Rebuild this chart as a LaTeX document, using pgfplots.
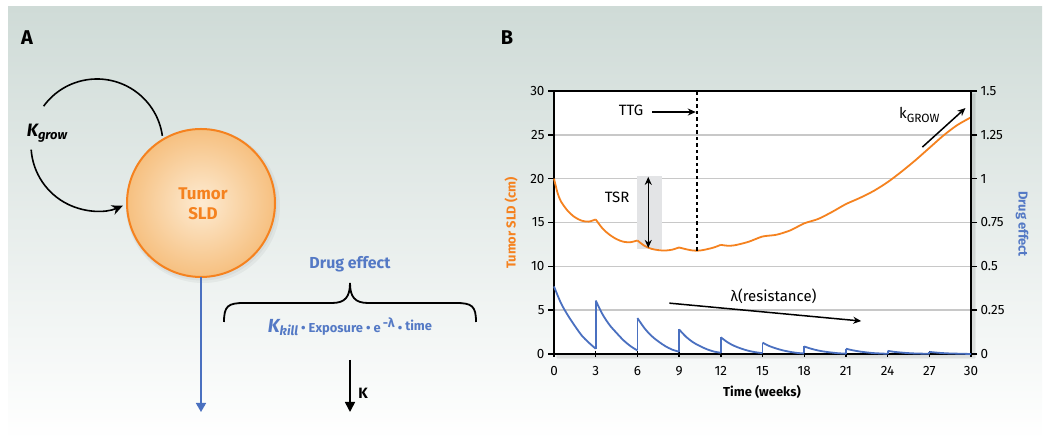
\documentclass[border=0pt]{standalone}
\usepackage{fontspec}
\setmainfont{Fira Sans}
\usepackage{pgfplots}
\pgfplotsset{compat=1.18}
\usetikzlibrary{arrows.meta}

\definecolor{bgtop}{HTML}{CFDBD7}
\definecolor{bgmid}{HTML}{E2E8E6}
\definecolor{orng}{HTML}{F5821F}
\definecolor{blu}{HTML}{4A70C0}
\definecolor{blutext}{HTML}{5479C5}
\definecolor{gridc}{HTML}{C8C8C8}
\definecolor{tsrbox}{HTML}{E3E4E6}
\definecolor{circin}{HTML}{FDEBD2}
\definecolor{circout}{HTML}{F6C080}

\begin{document}
\begin{tikzpicture}[x=1bp,y=1bp]
\path[use as bounding box] (0,0) rectangle (1050,442);
\shade[top color=bgtop, middle color=bgmid, bottom color=white] (8,2) rectangle (1042,435);

% ---------- panel A ----------
\node[font=\fontsize{20}{22}\selectfont\bfseries] at (27,404) {A};
\node[font=\fontsize{20}{22}\selectfont\bfseries] at (507,404) {B};

\fill[black,opacity=0.04] (203,236) circle (77);
\fill[black,opacity=0.04] (202,237) circle (75.5);
\shade[inner color=circin, outer color=circout] (201,239) circle (74);
\draw[orng, line width=2bp] (201,239) circle (74);
\node[orng, align=center, font=\fontsize{17}{20}\selectfont\bfseries] at (203,238) {Tumor\\SLD};

\draw[line width=1.6bp] (97,297) ++(144:66) arc[start angle=144, end angle=8, radius=66];
\draw[line width=1.6bp, -{Stealth[length=11bp,width=10bp]}] (97,297) ++(184:66) arc[start angle=184, end angle=293, radius=66];
\node[font=\bfseries\itshape] at (47,309) {\fontsize{18}{20}\selectfont K\fontsize{13}{15}\selectfont\raisebox{-3bp}{grow}};

\draw[blu, line width=1.6bp, -{Triangle[length=9bp,width=10bp]}] (201,165) -- (201,30);
\node[blutext, font=\fontsize{16}{19}\selectfont\bfseries] at (350,178) {Drug effect};
\draw[line width=1.8bp] (224,120) .. controls (224,136) and (228,139) .. (244,139) -- (332,139)
  .. controls (345,139) and (350,145) .. (350,159)
  .. controls (350,145) and (355,139) .. (368,139) -- (456,139)
  .. controls (472,139) and (476,136) .. (476,120);
\node[blutext, font=\fontsize{13}{15}\selectfont\bfseries] at (350,115)
  {{\itshape\fontsize{19}{21}\selectfont K\fontsize{13}{15}\selectfont\raisebox{-3bp}{kill}} • Exposure • e\,\raisebox{5bp}{-λ} • \raisebox{2bp}{time}};
\draw[line width=1.6bp, -{Triangle[length=10bp,width=10bp]}] (350,82) -- (350,30);
\node[font=\fontsize{15}{17}\selectfont\bfseries] at (363,49) {K};

% ---------- panel B ----------
\fill[black,opacity=0.05] (556,84) rectangle (976,349);
\fill[black,opacity=0.05] (557,83) rectangle (975,348);
\fill[white] (554,88) rectangle (971,351);

\begin{axis}[
  at={(554bp,88bp)}, anchor=south west,
  scale only axis, width=417bp, height=263bp,
  xmin=0, xmax=30, ymin=0, ymax=30,
  xtick={0,3,...,30}, ytick={0,5,...,30},
  xtick pos=bottom, ytick pos=left,
  ymajorgrids, grid style={gridc, line width=1.6bp},
  axis line style={line width=1.6bp, black},
  major tick style={line width=1.4bp, black},
  major tick length=6bp, ytick align=outside, xtick align=center,
  ticklabel style={font=\fontsize{13.5}{15}\selectfont},
  xticklabel style={yshift=-6bp},
  /pgf/number format/assume math mode=true,
  clip=false,
]
\fill[tsrbox] (axis cs:5.99,11.98) rectangle (axis cs:7.79,20.3);
\addplot[orng, line width=1.8bp, smooth, tension=0.45] coordinates {
(0,20.0) (0.25,18.4) (0.5,17.4) (1,16.3) (1.5,15.6) (2,15.2) (2.5,15.1) (3,15.35)};
\addplot[orng, line width=1.8bp, smooth, tension=0.45] coordinates {
(3,15.35) (3.5,14.3) (4,13.6) (4.5,13.1) (5,12.8) (5.5,12.75) (6,12.95)};
\addplot[orng, line width=1.8bp, smooth, tension=0.45] coordinates {
(6,12.95) (6.5,12.35) (7,12.0) (7.5,11.85) (8,11.8) (8.5,11.9) (9,12.15)};
\addplot[orng, line width=1.8bp, smooth, tension=0.45] coordinates {
(9,12.15) (9.5,11.95) (10,11.8) (10.5,11.8) (11,11.95) (11.5,12.15) (12,12.45)};
\addplot[orng, line width=1.8bp, smooth, tension=0.45] coordinates {
(12,12.45) (12.5,12.35) (13,12.4) (14,12.8) (15,13.4) (16,13.6) (17,14.1) (18,14.9)
(19,15.4) (20,16.2) (21,17.1) (22,17.8) (23,18.6) (24,19.6) (25,20.8) (26,22.1)
(27,23.5) (28,24.9) (29,26.1) (30,27.0)};

\draw[line width=1.6bp, dash pattern=on 3.5bp off 3bp] (axis cs:10.3,11.8) -- (axis cs:10.3,30);
\node[font=\fontsize{15}{17}\selectfont] at (axis cs:5.55,27.75) {TTG};
\draw[line width=1.5bp, -{Stealth[length=8bp,width=7bp]}] (axis cs:7.07,27.6) -- (axis cs:10.2,27.6);
\node[font=\fontsize{15}{17}\selectfont] at (axis cs:4.54,17.9) {TSR};
\draw[line width=1.5bp, {Stealth[length=8bp,width=7bp]}-{Stealth[length=8bp,width=7bp]}] (axis cs:6.78,20.2) -- (axis cs:6.78,12.1);
\node[font=\fontsize{15}{17}\selectfont] at (axis cs:26.3,27.26) {k\textsubscript{\fontsize{12}{14}\selectfont GROW}};
\draw[line width=1.5bp, -{Stealth[length=8bp,width=7bp]}] (axis cs:26.5,23.6) -- (axis cs:29.6,28.05);
\node[font=\fontsize{15}{17}\selectfont] at (axis cs:15.8,6.6) {λ(resistance)};
\draw[line width=1.5bp, -{Stealth[length=8bp,width=7bp]}] (axis cs:8.3,5.8) -- (axis cs:22.1,3.76);
\end{axis}

\begin{axis}[
  at={(554bp,88bp)}, anchor=south west,
  scale only axis, width=417bp, height=263bp,
  xmin=0, xmax=30, ymin=0, ymax=1.5,
  axis x line=none, axis y line*=right,
  ytick={0,0.25,0.5,0.75,1,1.25,1.5},
  yticklabels={0,0.25,0.5,0.75,1,1.25,1.5},
  axis line style={line width=1.6bp, black},
  major tick style={line width=1.4bp, black},
  major tick length=6bp, tick align=outside,
  ticklabel style={font=\fontsize{13.5}{15}\selectfont},
  clip=false,
]
\addplot[blu, line width=1.8bp, smooth, tension=0.5] coordinates {
(0,0.385) (0.5,0.29) (1,0.22) (1.5,0.16) (2,0.105) (2.5,0.065) (3,0.03)};
\addplot[blu, line width=1.8bp, smooth, tension=0.5] coordinates {
(3,0.305) (3.5,0.225) (4,0.165) (4.5,0.12) (5,0.078) (5.5,0.045) (6,0.02)};
\addplot[blu, line width=1.8bp, smooth, tension=0.5] coordinates {
(6,0.205) (6.5,0.148) (7,0.104) (7.5,0.072) (8,0.045) (8.5,0.025) (9,0.013)};
\addplot[blu, line width=1.8bp, smooth, tension=0.5] coordinates {
(9,0.14) (9.5,0.098) (10,0.067) (10.5,0.045) (11,0.027) (11.5,0.014) (12,0.007)};
\addplot[blu, line width=1.8bp, smooth, tension=0.5] coordinates {
(12,0.095) (12.5,0.066) (13,0.045) (13.5,0.03) (14,0.018) (14.5,0.01) (15,0.005)};
\addplot[blu, line width=1.8bp, smooth, tension=0.5] coordinates {
(15,0.065) (15.5,0.045) (16,0.031) (16.5,0.02) (17,0.012) (17.5,0.006) (18,0.003)};
\addplot[blu, line width=1.8bp, smooth, tension=0.5] coordinates {
(18,0.043) (18.5,0.03) (19,0.02) (19.5,0.013) (20,0.008) (20.5,0.004) (21,0.002)};
\addplot[blu, line width=1.8bp, smooth, tension=0.5] coordinates {
(21,0.03) (21.5,0.021) (22,0.014) (22.5,0.009) (23,0.005) (23.5,0.003) (24,0.001)};
\addplot[blu, line width=1.8bp, smooth, tension=0.5] coordinates {
(24,0.018) (24.5,0.012) (25,0.008) (25.5,0.005) (26,0.003) (26.5,0.002) (27,0.001)};
\addplot[blu, line width=1.8bp, smooth, tension=0.5] coordinates {
(27,0.012) (27.5,0.008) (28,0.005) (28.5,0.003) (29,0.002) (29.5,0.001) (30,0.0)};
% dose jumps
\addplot[blu, line width=1.8bp] coordinates {(3,0.03) (3,0.305)};
\addplot[blu, line width=1.8bp] coordinates {(6,0.02) (6,0.205)};
\addplot[blu, line width=1.8bp] coordinates {(9,0.013) (9,0.14)};
\addplot[blu, line width=1.8bp] coordinates {(12,0.007) (12,0.095)};
\addplot[blu, line width=1.8bp] coordinates {(15,0.005) (15,0.065)};
\addplot[blu, line width=1.8bp] coordinates {(18,0.003) (18,0.043)};
\addplot[blu, line width=1.8bp] coordinates {(21,0.002) (21,0.03)};
\addplot[blu, line width=1.8bp] coordinates {(24,0.001) (24,0.018)};
\addplot[blu, line width=1.8bp] coordinates {(27,0.001) (27,0.012)};
\end{axis}

\node[orng, rotate=90, font=\fontsize{13}{15}\selectfont\bfseries] at (511,219) {Tumor SLD (cm)};
\node[blutext, rotate=-90, font=\fontsize{13}{15}\selectfont\bfseries] at (1022,218) {Drug effect};
\node[font=\fontsize{13}{15}\selectfont\bfseries] at (762,50) {Time (weeks)};
\end{tikzpicture}
\end{document}
